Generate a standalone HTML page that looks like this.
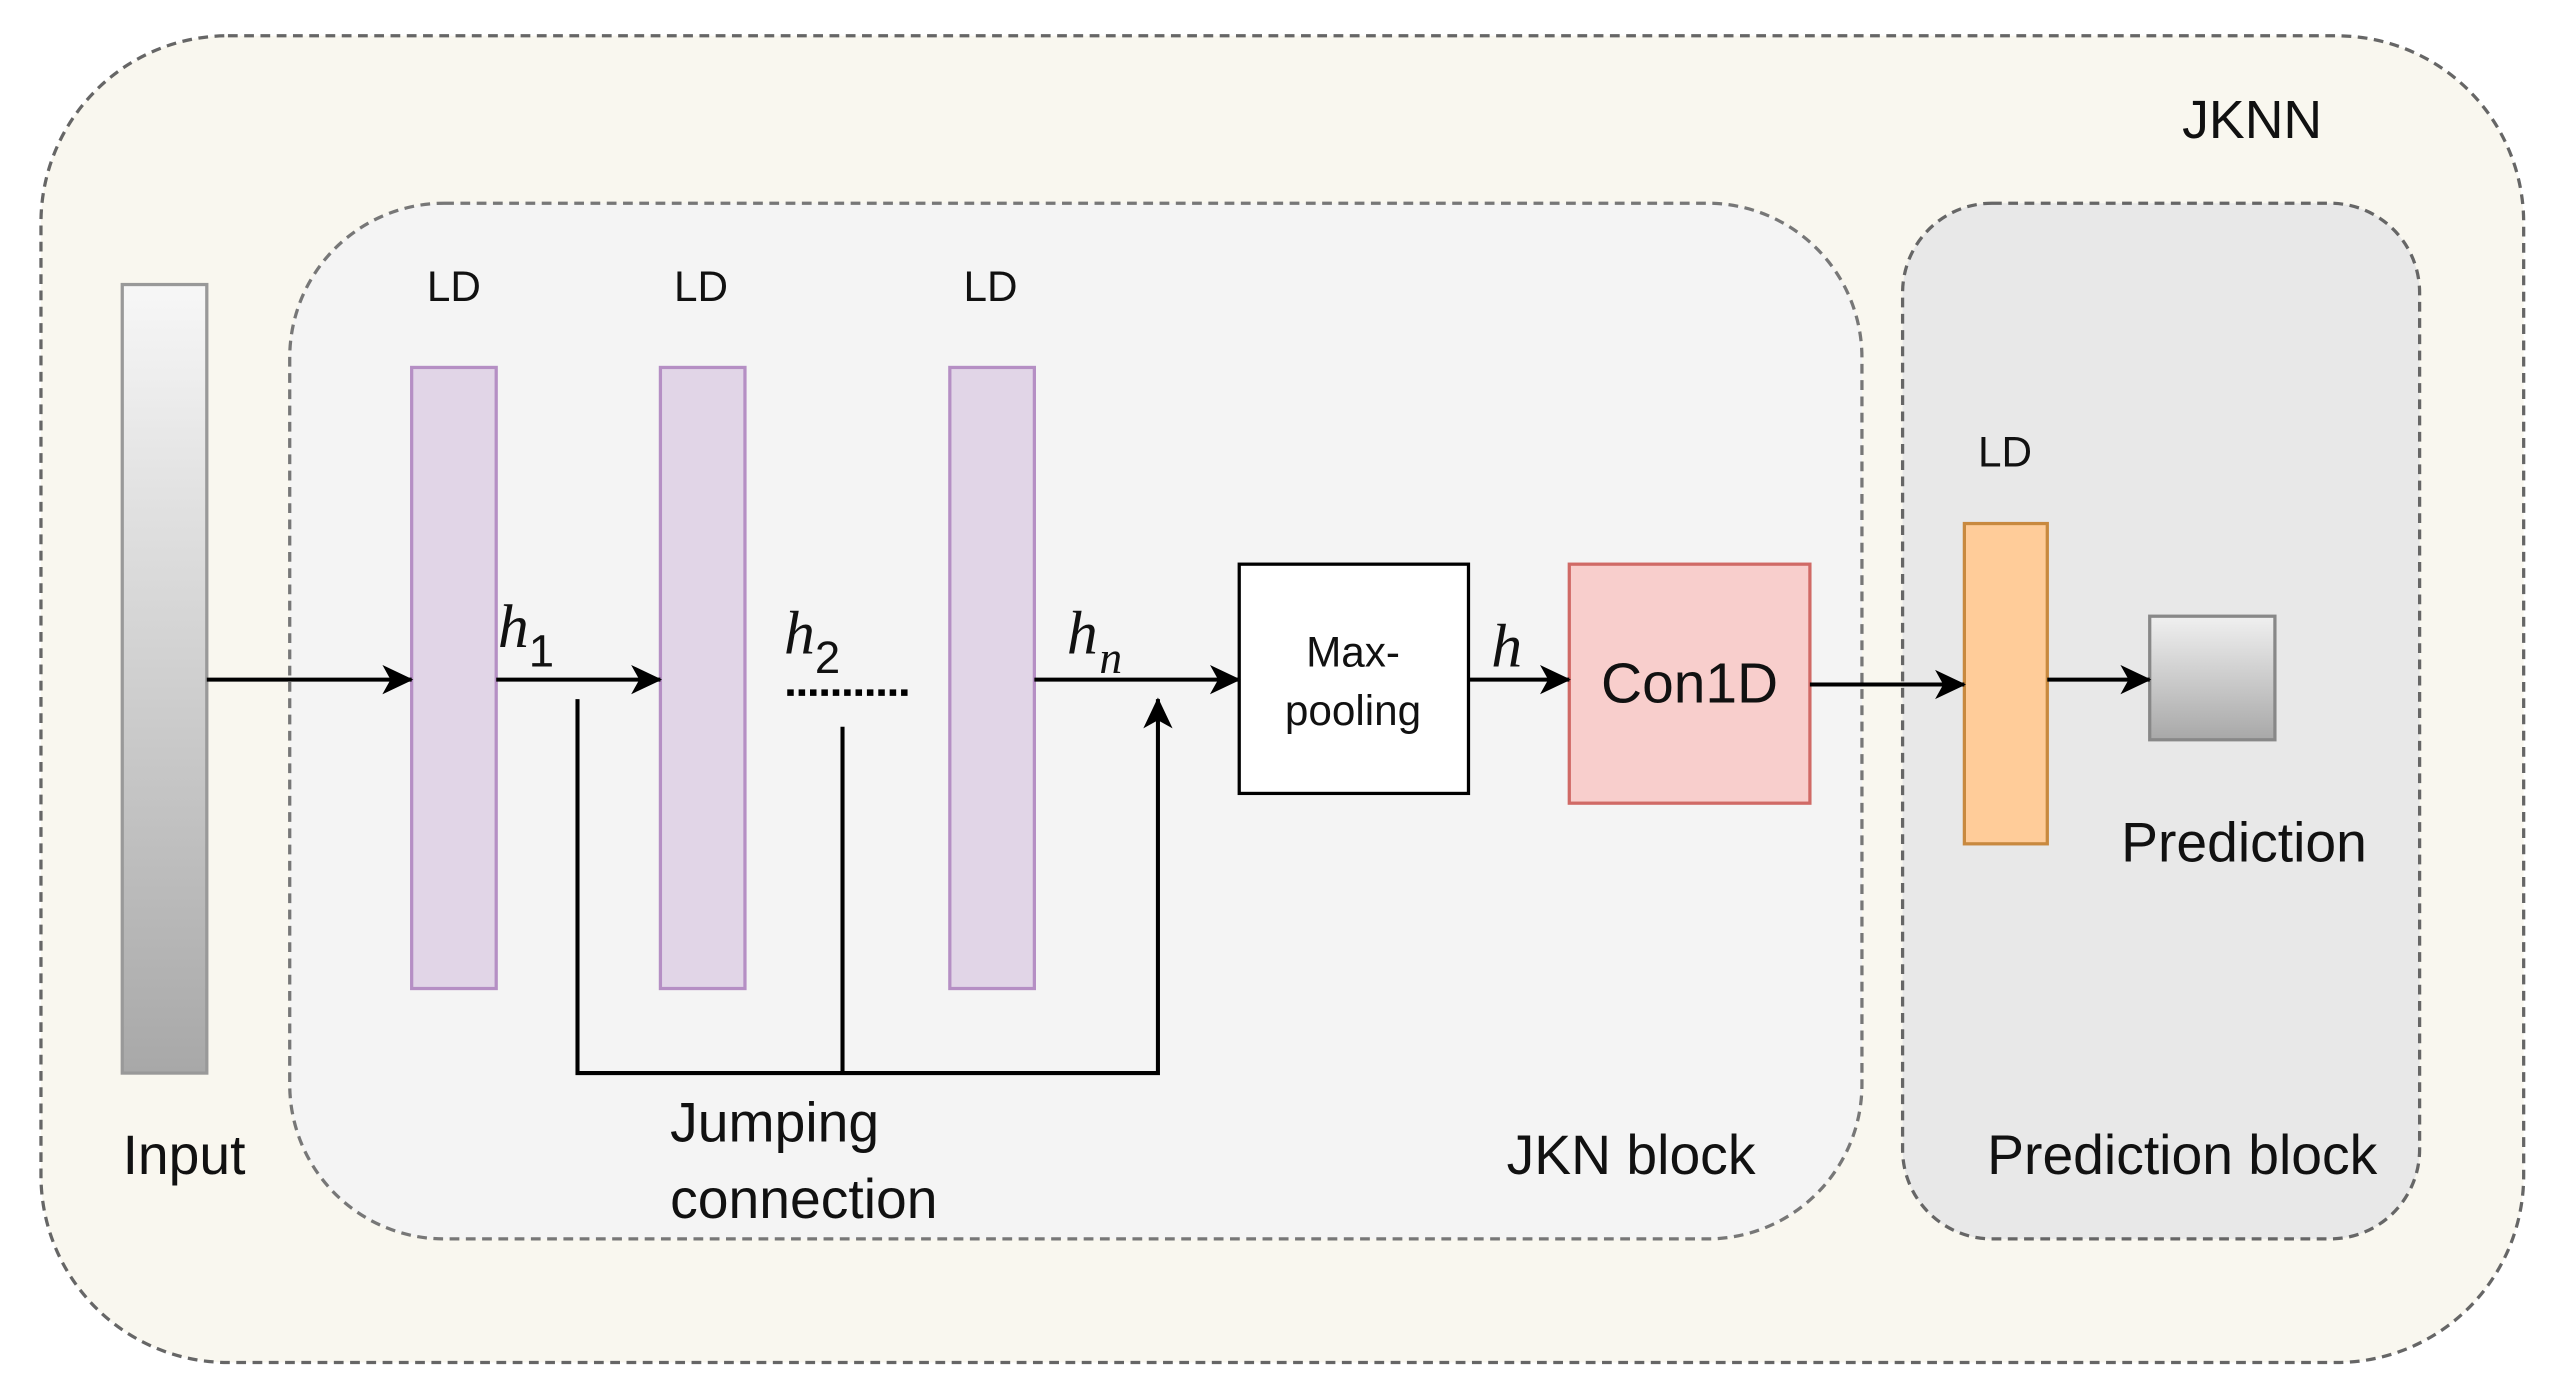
<!DOCTYPE html>
<html><head><meta charset="utf-8"><style>
html,body{margin:0;padding:0;background:#fff;}
svg{display:block;}
text{font-family:"Liberation Sans",sans-serif;fill:#111;}
.m{font-family:"Liberation Serif",serif;font-style:italic;}
</style></head><body>
<svg width="2550" height="1395" viewBox="0 0 1568 858" xmlns="http://www.w3.org/2000/svg">
<defs>
<linearGradient id="g1" x1="0" y1="0" x2="0" y2="1"><stop offset="0" stop-color="#f7f7f7"/><stop offset="1" stop-color="#a8a8a8"/></linearGradient>
<linearGradient id="g2" x1="0" y1="0" x2="0" y2="1"><stop offset="0" stop-color="#f0f0f0"/><stop offset="1" stop-color="#a8a8a8"/></linearGradient>
<marker id="b" markerWidth="20" markerHeight="20" refX="18" refY="10" orient="auto" markerUnits="userSpaceOnUse"><path d="M0,1 L19,10 L0,19 L5,10 Z" fill="#000"/></marker>
</defs>
<rect x="25" y="22" width="1527" height="816" rx="115" fill="#f9f7ef" stroke="#666" stroke-width="2" stroke-dasharray="6,4"/>
<rect x="178" y="125" width="967" height="637" rx="95" fill="#f4f4f4" stroke="#777" stroke-width="2" stroke-dasharray="6,4"/>
<rect x="1170" y="125" width="318" height="637" rx="55" fill="#e8e8e8" stroke="#666" stroke-width="2" stroke-dasharray="6,4"/>
<text x="1385" y="85" font-size="33" text-anchor="middle">JKNN</text>
<rect x="75" y="175" width="52" height="485" fill="url(#g1)" stroke="#999" stroke-width="2"/>
<text x="113" y="722" font-size="34" text-anchor="middle">Input</text>
<g fill="#e1d5e7" stroke="#b58fc4" stroke-width="2">
<rect x="253" y="226" width="52" height="382"/><rect x="406" y="226" width="52" height="382"/><rect x="584" y="226" width="52" height="382"/>
</g>
<g font-size="26" text-anchor="middle"><text x="279" y="185">LD</text><text x="431" y="185">LD</text><text x="609" y="185">LD</text><text x="1233" y="287">LD</text></g>
<rect x="762" y="347" width="141" height="141" fill="#fff" stroke="#000" stroke-width="2"/>
<text x="832" y="410" font-size="26" text-anchor="middle">Max-</text>
<text x="832" y="446" font-size="26" text-anchor="middle">pooling</text>
<rect x="965" y="347" width="148" height="147" fill="#f8cecc" stroke="#d06a66" stroke-width="2"/>
<text x="1039" y="432" font-size="35" text-anchor="middle">Con1D</text>
<rect x="1208" y="322" width="51" height="197" fill="#ffcc99" stroke="#c8893f" stroke-width="2"/>
<rect x="1322" y="379" width="77" height="76" fill="url(#g2)" stroke="#888" stroke-width="2"/>
<text x="1380" y="530" font-size="34" text-anchor="middle">Prediction</text>
<g stroke="#000" stroke-width="2.5" fill="none" marker-end="url(#b)">
<line x1="127" y1="418" x2="253" y2="418"/>
<line x1="305" y1="418" x2="406" y2="418"/>
<line x1="636" y1="418" x2="762" y2="418"/>
<line x1="903" y1="418" x2="965" y2="418"/>
<line x1="1113" y1="421" x2="1208" y2="421"/>
<line x1="1259" y1="418" x2="1322" y2="418"/>
<polyline points="355,430 355,660 712,660 712,430"/>
</g>
<line x1="518" y1="447" x2="518" y2="660" stroke="#000" stroke-width="2.5"/>
<line x1="484" y1="426" x2="558" y2="426" stroke="#000" stroke-width="4" stroke-dasharray="4,3"/>
<text class="m" x="306" y="398" font-size="38">h</text><text x="325" y="410" font-size="28" font-family="Liberation Serif">1</text>
<text class="m" x="482" y="402" font-size="38">h</text><text x="501" y="414" font-size="28" font-family="Liberation Serif">2</text>
<text class="m" x="656" y="402" font-size="38">h</text><text class="m" x="676" y="414" font-size="28">n</text>
<text class="m" x="917" y="410" font-size="38">h</text>
<text x="412" y="702" font-size="34">Jumping</text>
<text x="412" y="749" font-size="34">connection</text>
<text x="1003" y="722" font-size="34" text-anchor="middle">JKN block</text>
<text x="1342" y="722" font-size="34" text-anchor="middle">Prediction block</text>
</svg>
</body></html>
